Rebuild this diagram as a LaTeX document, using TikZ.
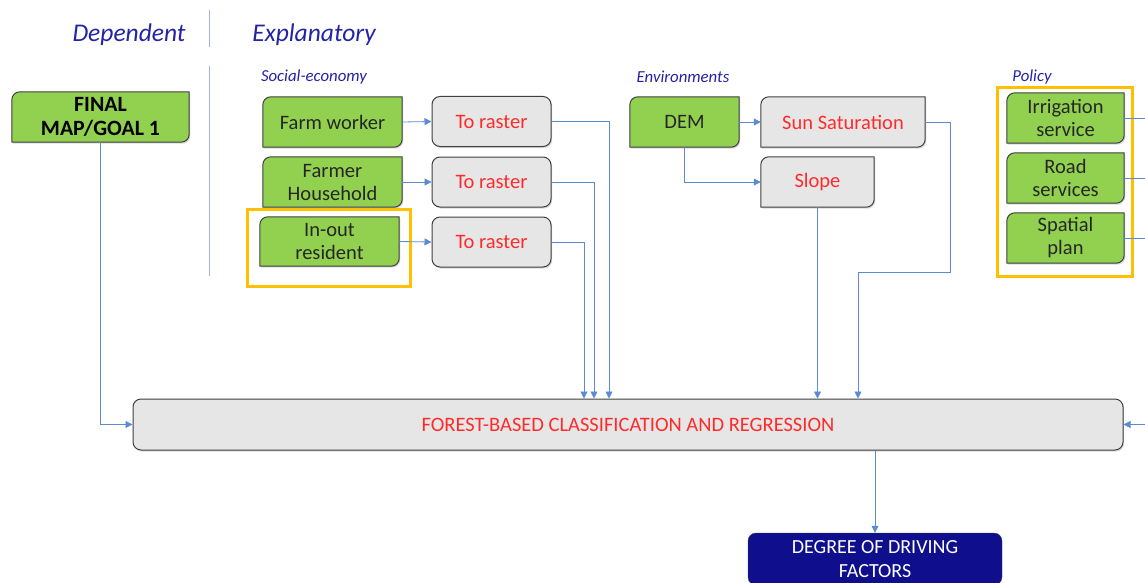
\documentclass[tikz,border=0pt]{standalone}
\usepackage{fontspec}
\setmainfont{Carlito}
\usetikzlibrary{arrows.meta,backgrounds,shadows}
\definecolor{leafgreen}{HTML}{92D050}
\definecolor{boxgray}{HTML}{E6E6E6}
\definecolor{edgegray}{HTML}{3F3F3F}
\definecolor{linkblue}{HTML}{5B8BD6}
\definecolor{headblue}{HTML}{2323A6}
\definecolor{sepblue}{HTML}{9DB3DC}
\definecolor{textred}{HTML}{FF2B2B}
\definecolor{deepblue}{HTML}{0F0F8E}
\definecolor{hilite}{HTML}{FFC000}
\tikzset{
  boxfont/.style={font=\fontsize{20.5}{23}\selectfont},
  leafbox/.style={boxfont, inner sep=0pt, align=center, text=black!85},
  rasterbox/.style={boxfont, draw=edgegray, line width=1pt, fill=boxgray,
    rounded corners=8pt, minimum width=119pt, minimum height=50pt,
    inner sep=0pt, text=textred,
    drop shadow={opacity=.3, shadow xshift=1.2pt, shadow yshift=-1.5pt}},
  leafedge/.style={draw=edgegray, line width=1pt,
    drop shadow={opacity=.3, shadow xshift=1.2pt, shadow yshift=-1.5pt}},
  head/.style={font=\fontsize{25.5}{28}\selectfont\itshape, text=headblue},
  group/.style={font=\fontsize{16.8}{19}\selectfont\itshape, text=headblue},
  link/.style={draw=linkblue, line width=.8pt, -{Triangle[length=7pt,width=7pt]}},
  feed/.style={draw=linkblue, line width=.8pt},
  sepline/.style={draw=sepblue, line width=.8pt},
  frame/.style={draw=hilite, line width=3pt},
}
\begin{document}
\begin{tikzpicture}[x=1pt,y=1pt]
    \useasboundingbox (0,0) rectangle (1145,-583);
    % headings
    \node[head] (dep) at (129,-35) {Dependent};
    \node[head] (expl) at (314,-35) {Explanatory};
    \draw[sepline] (209,-10)--(209,-47) (209,-66)--(209,-276);
    \node[group] (soc) at (314,-77) {Social-economy};
    \node[group] (env) at (683,-77) {Environments};
    \node[group] (pol) at (1032,-77) {Policy};
    % dependent
    \node[leafbox, minimum width=177pt, minimum height=50pt,
      font=\fontsize{21.8}{24}\selectfont\bfseries, text=black] (goal) at (100.5,-117) {FINAL\\MAP/GOAL 1};
    % social-economy
    \node[leafbox, minimum width=139pt, minimum height=50pt] (fw) at (332.5,-122) {Farm worker};
    \node[leafbox, minimum width=139pt, minimum height=50pt] (fh) at (332.5,-182) {Farmer\\Household};
    \node[leafbox, minimum width=139pt, minimum height=49pt] (io) at (329.5,-241.5) {In-out\\resident};
    \node[rasterbox] (r1) at (491.5,-121.5) {To raster};
    \node[rasterbox] (r2) at (491.5,-182) {To raster};
    \node[rasterbox] (r3) at (491.5,-242) {To raster};
    % environments
    \node[leafbox, minimum width=109pt, minimum height=50pt] (dem) at (684.5,-122) {DEM};
    \node[leafbox, minimum width=164pt, minimum height=50pt, text=textred] (sun) at (843,-122) {Sun Saturation};
    \node[leafbox, minimum width=113pt, minimum height=50pt, text=textred] (slope) at (817.5,-182) {Slope};
    % policy
    \node[leafbox, minimum width=117pt, minimum height=50pt] (irr) at (1065.5,-118) {Irrigation\\service};
    \node[leafbox, minimum width=117pt, minimum height=50pt] (road) at (1065.5,-178) {Road\\services};
    \node[leafbox, minimum width=117pt, minimum height=50pt] (plan) at (1065.5,-238) {Spatial\\plan};
    % model and result
    \node[rasterbox, minimum width=990pt, minimum height=51pt] (bar) at (628,-424.5)
      {FOREST-BASED CLASSIFICATION AND REGRESSION};
    \node[draw=edgegray, fill=deepblue, text=white, rounded corners=8pt,
      minimum width=254pt, minimum height=52pt, inner sep=0pt, align=center,
      font=\fontsize{20}{24}\selectfont] (deg) at (875,-559) {DEGREE OF DRIVING\\FACTORS};
    \begin{pgfonlayer}{background}
      \foreach \n in {goal,fw,fh,io,dem,irr,road,plan}
        \path[leafedge, fill=leafgreen] ([yshift=-8pt]\n.north west) arc[start angle=180,end angle=90,radius=8pt]
          -- (\n.north east) -- ([yshift=8pt]\n.south east) arc[start angle=0,end angle=-90,radius=8pt]
          -- (\n.south west) -- cycle;
      \foreach \n in {sun,slope}
        \path[leafedge, fill=boxgray] ([yshift=-8pt]\n.north west) arc[start angle=180,end angle=90,radius=8pt]
          -- (\n.north east) -- ([yshift=8pt]\n.south east) arc[start angle=0,end angle=-90,radius=8pt]
          -- (\n.south west) -- cycle;
    \end{pgfonlayer}
    % highlight frames
    \draw[frame] (247,-209) rectangle (410,-286);
    \draw[frame] (997,-88) rectangle (1132,-276);
    % connectors
    \coordinate (edge) at (1145,0);
    \coordinate (sunbend) at (950,-272);
    \draw[link] (fw.east) -- (r1.west);
    \draw[link] (fh.east) -- (r2.west);
    \draw[link] (io.east) -- (r3.west);
    \draw[link] (r1.east) -| ([xshift=-19pt]bar.north);
    \draw[link] (r2.east) -| ([xshift=-34pt]bar.north);
    \draw[link] (r3.east) -| ([xshift=-44pt]bar.north);
    \draw[link] (dem.east) -- (sun.west);
    \draw[link] (dem.south) |- (slope.west);
    \draw[link] (slope.south) -- (slope.south |- bar.north);
    \draw[link] (sun.east) -| (sunbend) -| ([xshift=230pt]bar.north);
    \draw[feed] (irr.east) -- (irr.east -| edge);
    \draw[feed] (road.east) -- (road.east -| edge);
    \draw[feed] (plan.east) -- (plan.east -| edge);
    \draw[link] (bar.east -| edge) -- (bar.east);
    \draw[link] (goal.south) |- (bar.west);
    \draw[link] (deg.north |- bar.south) -- (deg.north);
\end{tikzpicture}
\end{document}
